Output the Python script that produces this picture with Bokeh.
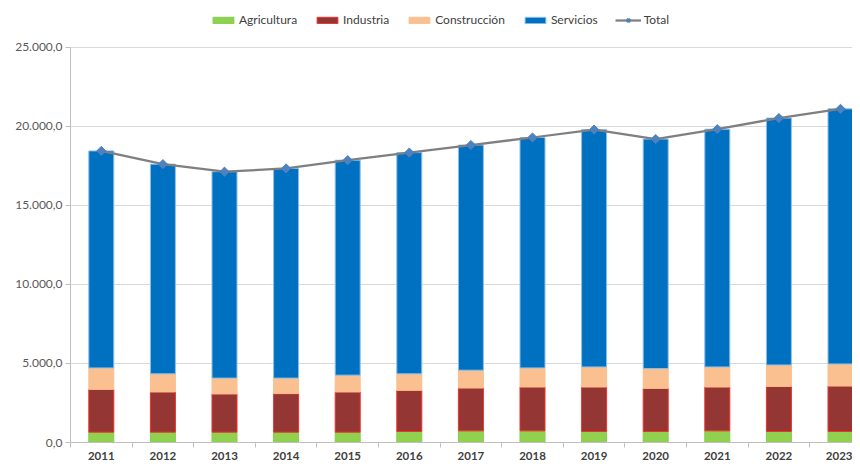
import math
from bokeh.plotting import figure
from bokeh.models import (ColumnDataSource, FixedTicker, Range1d, Legend, LegendItem)
from bokeh.embed import file_html
from bokeh.resources import INLINE

years = [2011, 2012, 2013, 2014, 2015, 2016, 2017, 2018, 2019, 2020, 2021, 2022, 2023]
agricultura = [656, 656, 656, 656, 656, 700, 737, 737, 700, 700, 737, 700, 700]
industria = [2704, 2542, 2417, 2436, 2542, 2598, 2711, 2773, 2810, 2723, 2773, 2848, 2873]
construccion = [1356, 1143, 999, 980, 1062, 1043, 1124, 1206, 1268, 1251, 1268, 1355, 1393]
servicios = [13724, 13261, 13054, 13261, 13592, 13991, 14241, 14572, 15010, 14514, 15035, 15615, 16134]
total = [18440, 17602, 17126, 17333, 17852, 18332, 18813, 19288, 19788, 19188, 19813, 20518, 21100]

y_ticks = [0, 5000, 10000, 15000, 20000, 25000]
y_labels = ["0,0", "5.000,0", "10.000,0", "15.000,0", "20.000,0", "25.000,0"]

series = ["agricultura", "industria", "construccion", "servicios"]
names = ["Agricultura", "Industria", "Construcción", "Servicios"]
fills = ["#92D050", "#943634", "#FAC090", "#0070C0"]
lines = ["#7ED04A", "#F0302A", "#FAC090", "#8EC0EA"]

src = ColumnDataSource(dict(x=years, agricultura=agricultura, industria=industria,
                            construccion=construccion, servicios=servicios, total=total))

FONT = "Lato"
W, H = 852, 462
LEFT, TOP, BOTTOM = 70, 0, 17
frame_h = H - TOP - BOTTOM          # 445 px, 25000 sits 47 px below the top
px_per_unit = (frame_h - 47) / 25000.0
y_top = frame_h / px_per_unit
x_end = 2010.5 + (W - LEFT) / 61.6

p = figure(width=W, height=H, output_backend="svg", toolbar_location=None,
           x_range=Range1d(2010.5, x_end), y_range=Range1d(0, y_top),
           min_border_left=LEFT, min_border_right=0, min_border_top=TOP,
           min_border_bottom=BOTTOM)
p.outline_line_color = None
p.background_fill_color = "white"
p.border_fill_color = "white"

bars = p.vbar_stack(series, x="x", width=0.406, source=src, fill_color=fills,
                    line_color=lines, line_width=1)

ln = p.line("x", "total", source=src, line_color="#7F7F7F", line_width=2.25)
mk = p.scatter("x", "total", source=src, marker="square", size=6.5, angle=math.pi / 4,
               fill_color="#4F81BD", line_color="#4F81BD")

# axes
p.xgrid.grid_line_color = None
p.ygrid.grid_line_color = "#D9D9D9"
p.ygrid.grid_line_width = 1

p.yaxis.ticker = FixedTicker(ticks=y_ticks)
p.yaxis.bounds = (0, 25000)
p.yaxis.major_label_overrides = {t: l for t, l in zip(y_ticks, y_labels)}
p.yaxis.axis_line_color = "#BFBFBF"
p.yaxis.major_tick_line_color = "#BFBFBF"
p.yaxis.major_tick_out = 5
p.yaxis.major_tick_in = 0
p.yaxis.minor_tick_line_color = None
p.yaxis.major_label_standoff = 3
p.yaxis.major_label_text_font = FONT
p.yaxis.major_label_text_font_size = "12px"
p.yaxis.major_label_text_color = "#595959"

p.xaxis.ticker = FixedTicker(ticks=years, minor_ticks=[y - 0.5 for y in years])
p.xaxis.major_label_overrides = {y: str(y) for y in years}
p.xaxis.axis_line_color = "#BFBFBF"
p.xaxis.major_tick_line_color = None
p.xaxis.major_tick_out = 0
p.xaxis.major_tick_in = 0
p.xaxis.minor_tick_line_color = "#BFBFBF"
p.xaxis.minor_tick_out = 5
p.xaxis.minor_tick_in = 0
p.xaxis.major_label_standoff = 4
p.xaxis.major_label_text_font = FONT
p.xaxis.major_label_text_font_size = "11.5px"
p.xaxis.major_label_text_font_style = "bold"
p.xaxis.major_label_text_color = "#404040"

items = [LegendItem(label=n, renderers=[r]) for n, r in zip(names, bars)]
items.append(LegendItem(label="Total", renderers=[ln, mk]))
legend = Legend(items=items, orientation="horizontal", location=(140, frame_h - 30),
                glyph_width=26, glyph_height=8, label_height=14, label_standoff=3,
                spacing=17, padding=0, margin=0, border_line_color=None,
                background_fill_alpha=0,
                label_text_font=FONT, label_text_font_size="12px",
                label_text_color="#404040")
p.add_layout(legend, "center")

open("out.html", "w").write(file_html(p, INLINE))
